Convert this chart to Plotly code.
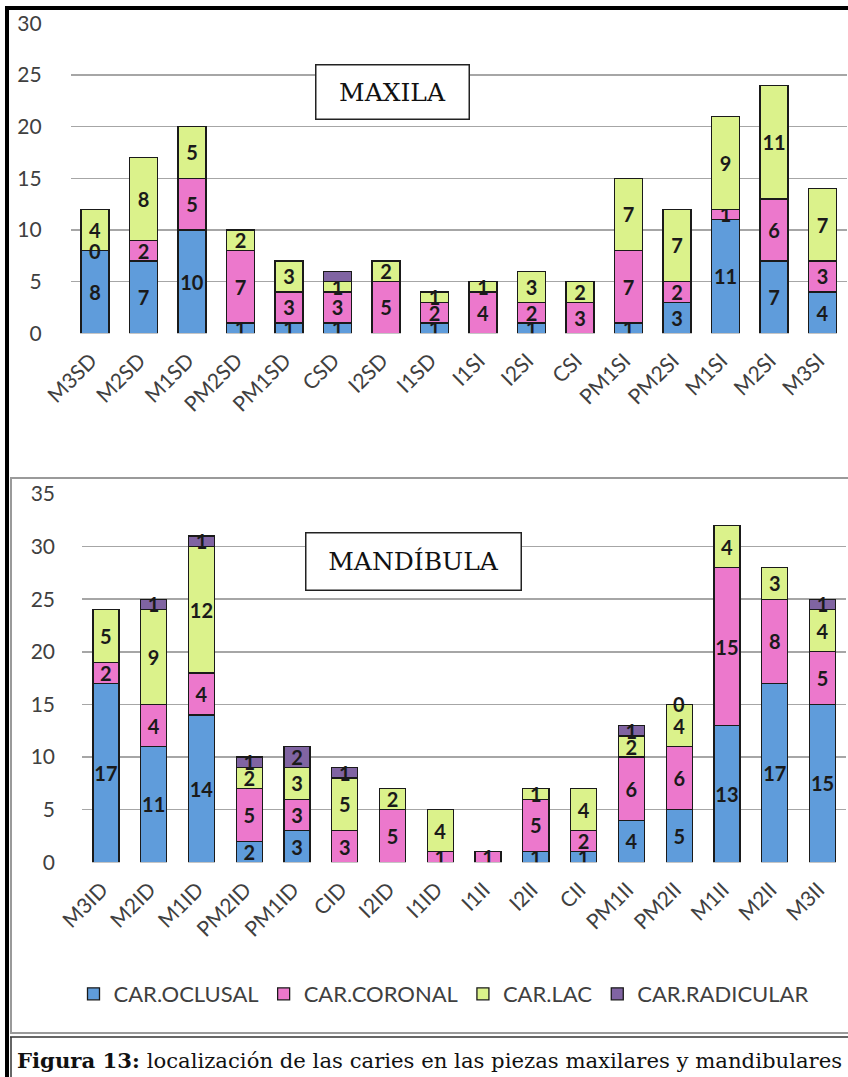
import plotly.graph_objects as go

W, H = 848, 1077

series_names = ["CAR.OCLUSAL", "CAR.CORONAL", "CAR.LAC", "CAR.RADICULAR"]
series_colors = ["#5F9CDB", "#EC78CC", "#DBF28B", "#8064A2"]

maxila_teeth = ["M3SD", "M2SD", "M1SD", "PM2SD", "PM1SD", "CSD", "I2SD", "I1SD",
                "I1SI", "I2SI", "CSI", "PM1SI", "PM2SI", "M1SI", "M2SI", "M3SI"]
maxila_oclusal = [8, 7, 10, 1, 1, 1, None, 1, None, 1, None, 1, 3, 11, 7, 4]
maxila_coronal = [0, 2, 5, 7, 3, 3, 5, 2, 4, 2, 3, 7, 2, 1, 6, 3]
maxila_lac = [4, 8, 5, 2, 3, 1, 2, 1, 1, 3, 2, 7, 7, 9, 11, 7]
maxila_radicular = [None, None, None, None, None, 1, None, None,
                    None, None, None, None, None, None, None, None]
maxila_hidden_labels = [("CAR.RADICULAR", "CSD")]

mand_teeth = ["M3ID", "M2ID", "M1ID", "PM2ID", "PM1ID", "CID", "I2ID", "I1ID",
              "I1II", "I2II", "CII", "PM1II", "PM2II", "M1II", "M2II", "M3II"]
mand_oclusal = [17, 11, 14, 2, 3, None, None, None, None, 1, 1, 4, 5, 13, 17, 15]
mand_coronal = [2, 4, 4, 5, 3, 3, 5, 1, 1, 5, 2, 6, 6, 15, 8, 5]
mand_lac = [5, 9, 12, 2, 3, 5, 2, 4, None, 1, 4, 2, 4, 4, 3, 4]
mand_radicular = [None, 1, 1, 1, 2, 1, None, None, None, None, None, 1, 0, None, None, 1]
mand_hidden_labels = []

LABEL_FONT = dict(family="Lato", size=20, color="#1a1a1a", weight="bold")
TICK_FONT = dict(family="Lato", size=21, color="#404040")


def px_x(p):
    return p / W


def px_y(p):
    return 1 - p / H


fig = go.Figure()
annotations = []


def add_stack(teeth, series, hidden, xa, ya, width, showlegend):
    cum = [0] * len(teeth)
    for name, color, vals in zip(series_names, series_colors, series):
        texts = []
        for t, v in zip(teeth, vals):
            if v is None or v == 0 or (name, t) in hidden:
                texts.append("")
            else:
                texts.append(str(v))
        fig.add_trace(go.Bar(
            x=teeth, y=vals, name=name, xaxis=xa, yaxis=ya,
            marker=dict(color=color, line=dict(color="#1a1a1a", width=1.3)),
            width=width, text=texts, textposition="inside",
            insidetextanchor="middle", textangle=0, constraintext="none",
            insidetextfont=LABEL_FONT, showlegend=showlegend,
            hoverinfo="skip"))
        for i, (t, v) in enumerate(zip(teeth, vals)):
            if v == 0 and (name, t) not in hidden:
                annotations.append(dict(x=t, y=cum[i], xref=xa, yref=ya, text="0",
                                        showarrow=False, font=LABEL_FONT))
            if v:
                cum[i] += v


add_stack(maxila_teeth, [maxila_oclusal, maxila_coronal, maxila_lac, maxila_radicular],
          maxila_hidden_labels, "x", "y", 0.577, True)
add_stack(mand_teeth, [mand_oclusal, mand_coronal, mand_lac, mand_radicular],
          mand_hidden_labels, "x2", "y2", 0.545, False)

axis_common = dict(showgrid=False, showline=False, ticks="", tickangle=-45,
                   tickfont=TICK_FONT, fixedrange=True, automargin=False,
                   ticklabelstandoff=10, ticklabelshift=-4)
yaxis_common = dict(showgrid=True, gridcolor="#A6A6A6", gridwidth=1.6, zeroline=False,
                    showline=False, ticks="", tickfont=TICK_FONT, dtick=5,
                    fixedrange=True, automargin=False)

fig.update_layout(
    width=W, height=H, autosize=False,
    margin=dict(l=0, r=0, t=0, b=0, autoexpand=False),
    paper_bgcolor="white", plot_bgcolor="white",
    barmode="stack",
    xaxis=dict(domain=[px_x(70.7), px_x(846.8)], anchor="y", **axis_common),
    yaxis=dict(domain=[px_y(333.3), px_y(23.3)], range=[0, 30], anchor="x",
               ticklabelstandoff=28, **yaxis_common),
    xaxis2=dict(domain=[px_x(82), px_x(846.4)], anchor="y2", **axis_common),
    yaxis2=dict(domain=[px_y(862.3), px_y(494)], range=[0, 35], anchor="x2",
                ticklabelstandoff=26, **yaxis_common),
    legend=dict(orientation="h", x=0.523, xanchor="center", y=px_y(994), yanchor="middle",
                font=dict(family="Lato", size=22, color="#404040"),
                traceorder="normal", bgcolor="rgba(0,0,0,0)"),
    showlegend=True,
)

# chart titles in boxes
annotations.append(dict(x=px_x(392.5), y=px_y(64.5), xref="paper", yref="paper",
                        text="MAXILA", showarrow=False, width=150, height=51,
                        font=dict(family="DejaVu Serif", size=25, color="#111"),
                        bordercolor="#222", borderwidth=1.5, borderpad=1, bgcolor="white"))
annotations.append(dict(x=px_x(413.5), y=px_y(561), xref="paper", yref="paper",
                        text="MANDÍBULA", showarrow=False, width=212, height=54,
                        font=dict(family="DejaVu Serif", size=25, color="#111"),
                        bordercolor="#222", borderwidth=1.5, borderpad=1, bgcolor="white"))
# caption
annotations.append(dict(x=px_x(15), y=px_y(1060), xref="paper", yref="paper",
                        xanchor="left", yanchor="middle", showarrow=False,
                        text="<b>Figura 13:</b> localización de las caries en las piezas maxilares y mandibulares",
                        font=dict(family="DejaVu Serif", size=21.2, color="#111")))
fig.update_layout(annotations=annotations)


def pline(x0, y0, x1, y1, color, width):
    return dict(type="line", xref="paper", yref="paper",
                x0=px_x(x0), x1=px_x(x1), y0=px_y(y0), y1=px_y(y1),
                line=dict(color=color, width=width), layer="above")


# frame lines
shapes = [
    pline(5, 8, W, 8, "#000", 4),
    pline(7, 6, 7, H, "#000", 4),
    pline(10, 478, W, 478, "#9a9a9a", 2),
    pline(11, 478, 11, 1034, "#9a9a9a", 2),
    pline(10, 1033, W, 1033, "#9a9a9a", 2),
    pline(10, 1037, W, 1037, "#333", 1.5),
    pline(11, 1037, 11, H, "#333", 1.5),
]
fig.update_layout(shapes=shapes)

fig.write_html("out.html", config={"displayModeBar": False, "staticPlot": True},
               post_script="document.body.style.margin='0';document.body.style.overflow='hidden';")
